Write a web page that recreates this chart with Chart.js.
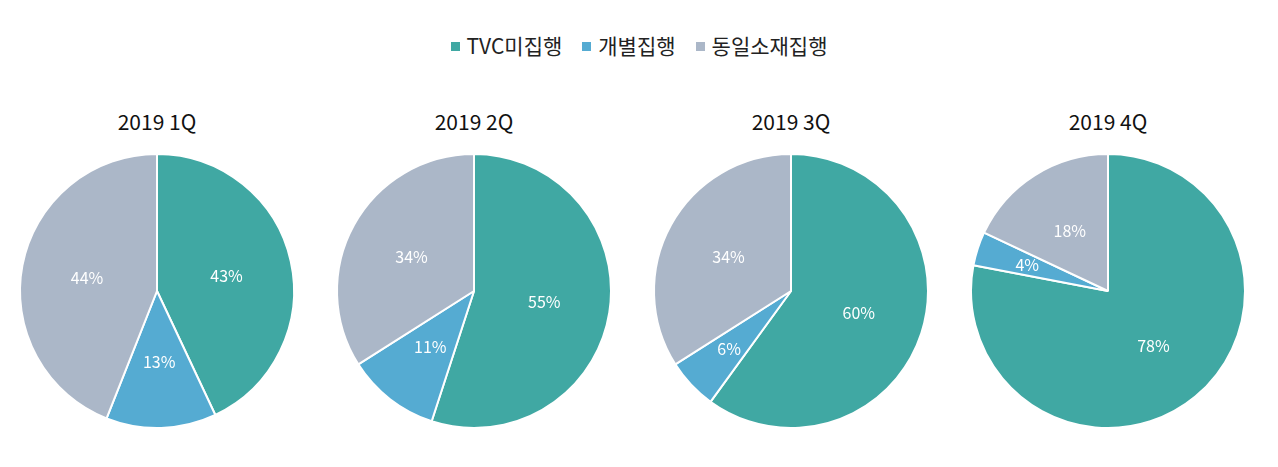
<!DOCTYPE html>
<html><head><meta charset="utf-8">
<script src="https://cdn.jsdelivr.net/npm/chart.js@4"></script>
<style>
body{margin:0;width:1278px;height:467px;background:#fff;font-family:"Noto Sans CJK KR","Noto Sans",sans-serif;position:relative;overflow:hidden}
#legend{position:absolute;top:30px;left:0;width:1278px;text-align:center;font-size:21px;color:#222}
#legend span{margin:0 10px}
#legend i{display:inline-block;width:9px;height:9px;margin-right:7px;vertical-align:middle;position:relative;top:-2px}
.t{position:absolute;top:106px;width:300px;text-align:center;font-size:21px;color:#111}
.c{position:absolute;top:151px;width:300px;height:280px}
</style></head><body>
<div id="legend"></div>
<script>
const seriesNames = ['TVC미집행', '개별집행', '동일소재집행'];
const colors = ['#40A8A3', '#55ABD2', '#ABB7C8'];
const quarters = ['2019 1Q', '2019 2Q', '2019 3Q', '2019 4Q'];
const q1 = [43, 13, 44];
const q2 = [55, 11, 34];
const q3 = [60, 6, 34];
const q4 = [78, 4, 18];
const allData = [q1, q2, q3, q4];
const centers = [157, 474, 791, 1108];

document.getElementById('legend').innerHTML = seriesNames.map((n, i) =>
  `<span><i style="background:${colors[i]}"></i>${n}</span>`).join('');

const labelPlugin = {
  id: 'lbl',
  afterDatasetsDraw(chart) {
    const ctx = chart.ctx;
    const meta = chart.getDatasetMeta(0);
    const data = chart.data.datasets[0].data;
    ctx.save();
    ctx.fillStyle = '#fff';
    ctx.font = '16px "Noto Sans CJK KR", sans-serif';
    ctx.textAlign = 'center';
    ctx.textBaseline = 'middle';
    meta.data.forEach((arc, i) => {
      const a = (arc.startAngle + arc.endAngle) / 2;
      const r = arc.outerRadius * (data[i] < 8 ? 0.62 : 0.52);
      ctx.fillText(data[i] + '%', arc.x + Math.cos(a) * r, arc.y + Math.sin(a) * r);
    });
    ctx.restore();
  }
};

allData.forEach((d, k) => {
  const t = document.createElement('div');
  t.className = 't'; t.style.left = (centers[k] - 150) + 'px'; t.textContent = quarters[k];
  document.body.appendChild(t);
  const box = document.createElement('div');
  box.className = 'c'; box.style.left = (centers[k] - 150) + 'px';
  const cv = document.createElement('canvas');
  box.appendChild(cv); document.body.appendChild(box);
  new Chart(cv, {
    type: 'pie',
    data: { labels: seriesNames, datasets: [{ data: d, backgroundColor: colors, borderColor: '#fff', borderWidth: 2 }] },
    options: {
      responsive: true, maintainAspectRatio: false, animation: false,
      radius: 137,
      plugins: { legend: { display: false }, tooltip: { enabled: false } }
    },
    plugins: [labelPlugin]
  });
});
</script>
</body></html>
